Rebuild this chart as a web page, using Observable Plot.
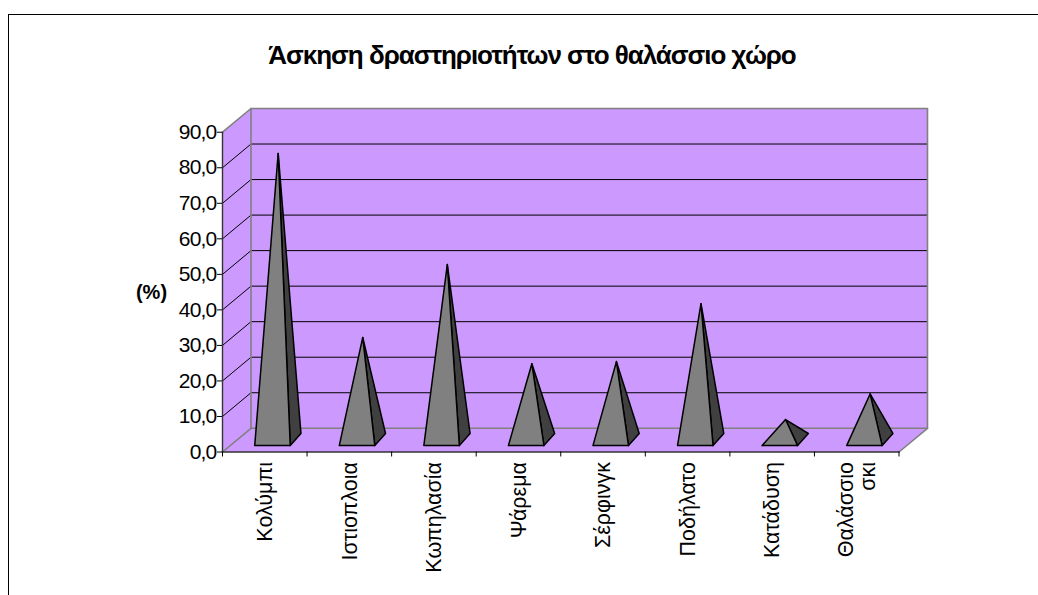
<!DOCTYPE html>
<html><head><meta charset="utf-8">
<script src="https://cdn.jsdelivr.net/npm/d3@7"></script>
<script src="https://cdn.jsdelivr.net/npm/@observablehq/plot@0.6"></script>
<style>
html,body{margin:0;padding:0;background:#fff;overflow:hidden;width:1038px;height:595px}
#frame{position:absolute;left:8px;top:14px;width:1100px;height:700px;border:1px solid #000;box-sizing:border-box}
#title{position:absolute;left:0;width:1064px;top:40px;text-align:center;font:bold 26px "Liberation Sans",Arial,sans-serif;letter-spacing:-1.03px;color:#000}
#chart{position:absolute;left:0;top:80px}
svg{overflow:visible;background:none!important}
g[aria-label="cats"] text{letter-spacing:1px}
g[aria-label="unit"] text{letter-spacing:-1.8px}
g[aria-label="y-axis tick label"] text{letter-spacing:-0.8px}
</style></head><body>
<div id="frame"></div>
<div id="title">Άσκηση δραστηριοτήτων στο θαλάσσιο χώρο</div>
<div id="chart"></div>
<script>
const categories = ["Κολύμπι","Ιστιοπλοια","Κωπηλασία","Ψάρεμα","Σέρφινγκ","Ποδήλατο","Κατάδυση","Θαλάσσιο\nσκι"];
const values = [80.7, 28.9, 49.4, 21.5, 22.1, 38.4, 5.8, 13.0];
const yTicks = [0,10,20,30,40,50,60,70,80,90];
const innerTicks = [10,20,30,40,50,60,70,80];
const DX = 0.337, DY = 6.68;            // oblique depth, in x and y data units
const halfW = 0.21, zFront = 0.27, zBack = 0.78, zApex = 0.47, backInset = 0.045;
const purple = "#cc99ff", gray = "#808080", dark = "#404040";
const P = (c, v, z) => ({x: c + z*DX, y: v + z*DY});
const poly = (pts) => pts.concat([pts[0]]);

const wallBack = poly([P(0,0,1),P(8,0,1),P(8,90,1),P(0,90,1)]);
const wallSide = poly([P(0,0,0),P(0,0,1),P(0,90,1),P(0,90,0)]);
const floor = poly([P(0,0,0),P(8,0,0),P(8,0,1),P(0,0,1)]);
const pl = (pts,o) => Plot.line(pts,{x:"x",y:"y",curve:"linear",...o});

const front = values.map((v,i)=>{const c=i+.5;return poly([P(c-halfW,0,zFront),P(c+halfW,0,zFront),{x:c+zApex*DX,y:v+.5*DY}]).map(p=>({...p,i}))}).flat();
const side = values.map((v,i)=>{const c=i+.5;return poly([P(c+halfW,0,zFront),P(c+halfW-backInset,0,zBack),{x:c+zApex*DX,y:v+.5*DY}]).map(p=>({...p,i}))}).flat();

const fmt = d => d.toFixed(1).replace(".",",");
const font = '"Liberation Sans",Arial,sans-serif';

const plot = Plot.plot({
  width:1038, height:515,
  marginLeft:222, marginRight:111, marginTop:28, marginBottom:143.5,
  x:{domain:[0,8+DX]}, y:{domain:[0,90+DY]},
  style:{fontFamily:font, background:"transparent"},
  marks:[
    pl(wallBack,{fill:purple,stroke:"none"}),
    pl(wallSide,{fill:purple,stroke:"none"}),
    pl(floor,{fill:purple,stroke:"none"}),
    ...innerTicks.map(t=>pl([P(0,t,0),P(0,t,1),P(8,t,1)],{stroke:"#000",strokeWidth:1})),
    pl(wallBack,{stroke:gray,strokeWidth:1.6}),
    pl([P(0,90,0),P(0,90,1)],{stroke:gray,strokeWidth:1.6}),
    pl([P(0,0,0),P(0,0,1)],{stroke:gray,strokeWidth:1.6}),
    pl([P(8,0,0),P(8,0,1)],{stroke:gray,strokeWidth:1.6}),
    pl([P(0,0,0),P(0,90,0)],{stroke:"#333",strokeWidth:1.4}),
    pl([P(0,0,0),P(8,0,0)],{stroke:"#333",strokeWidth:1.4}),
    pl(side,{z:"i",fill:dark,stroke:"#000",strokeWidth:1.5,strokeLinejoin:"round"}),
    pl(front,{z:"i",fill:gray,stroke:"#000",strokeWidth:1.5,strokeLinejoin:"round"}),
    Plot.axisY({ticks:yTicks,tickFormat:fmt,label:null,tickSize:5,tickPadding:1,fontSize:21,stroke:"#000",anchor:"left"}),
    Plot.axisX({ticks:d3.range(0,9),tickFormat:()=>"",label:null,tickSize:5,stroke:"#000",anchor:"bottom"}),
    Plot.text(categories,{ariaLabel:"cats",x:(d,i)=>i+.5,y:()=>0,text:d=>d,rotate:-90,textAnchor:"end",lineAnchor:"middle",dy:10,fontSize:21.5,fill:"#000",lineHeight:1.05}),
    Plot.text(["(%)"],{ariaLabel:"unit",x:()=>0,y:()=>45,text:d=>d,dx:-71,fontSize:20,fontWeight:"bold",fill:"#000"})
  ]
});
document.getElementById("chart").append(plot);
</script></body></html>
